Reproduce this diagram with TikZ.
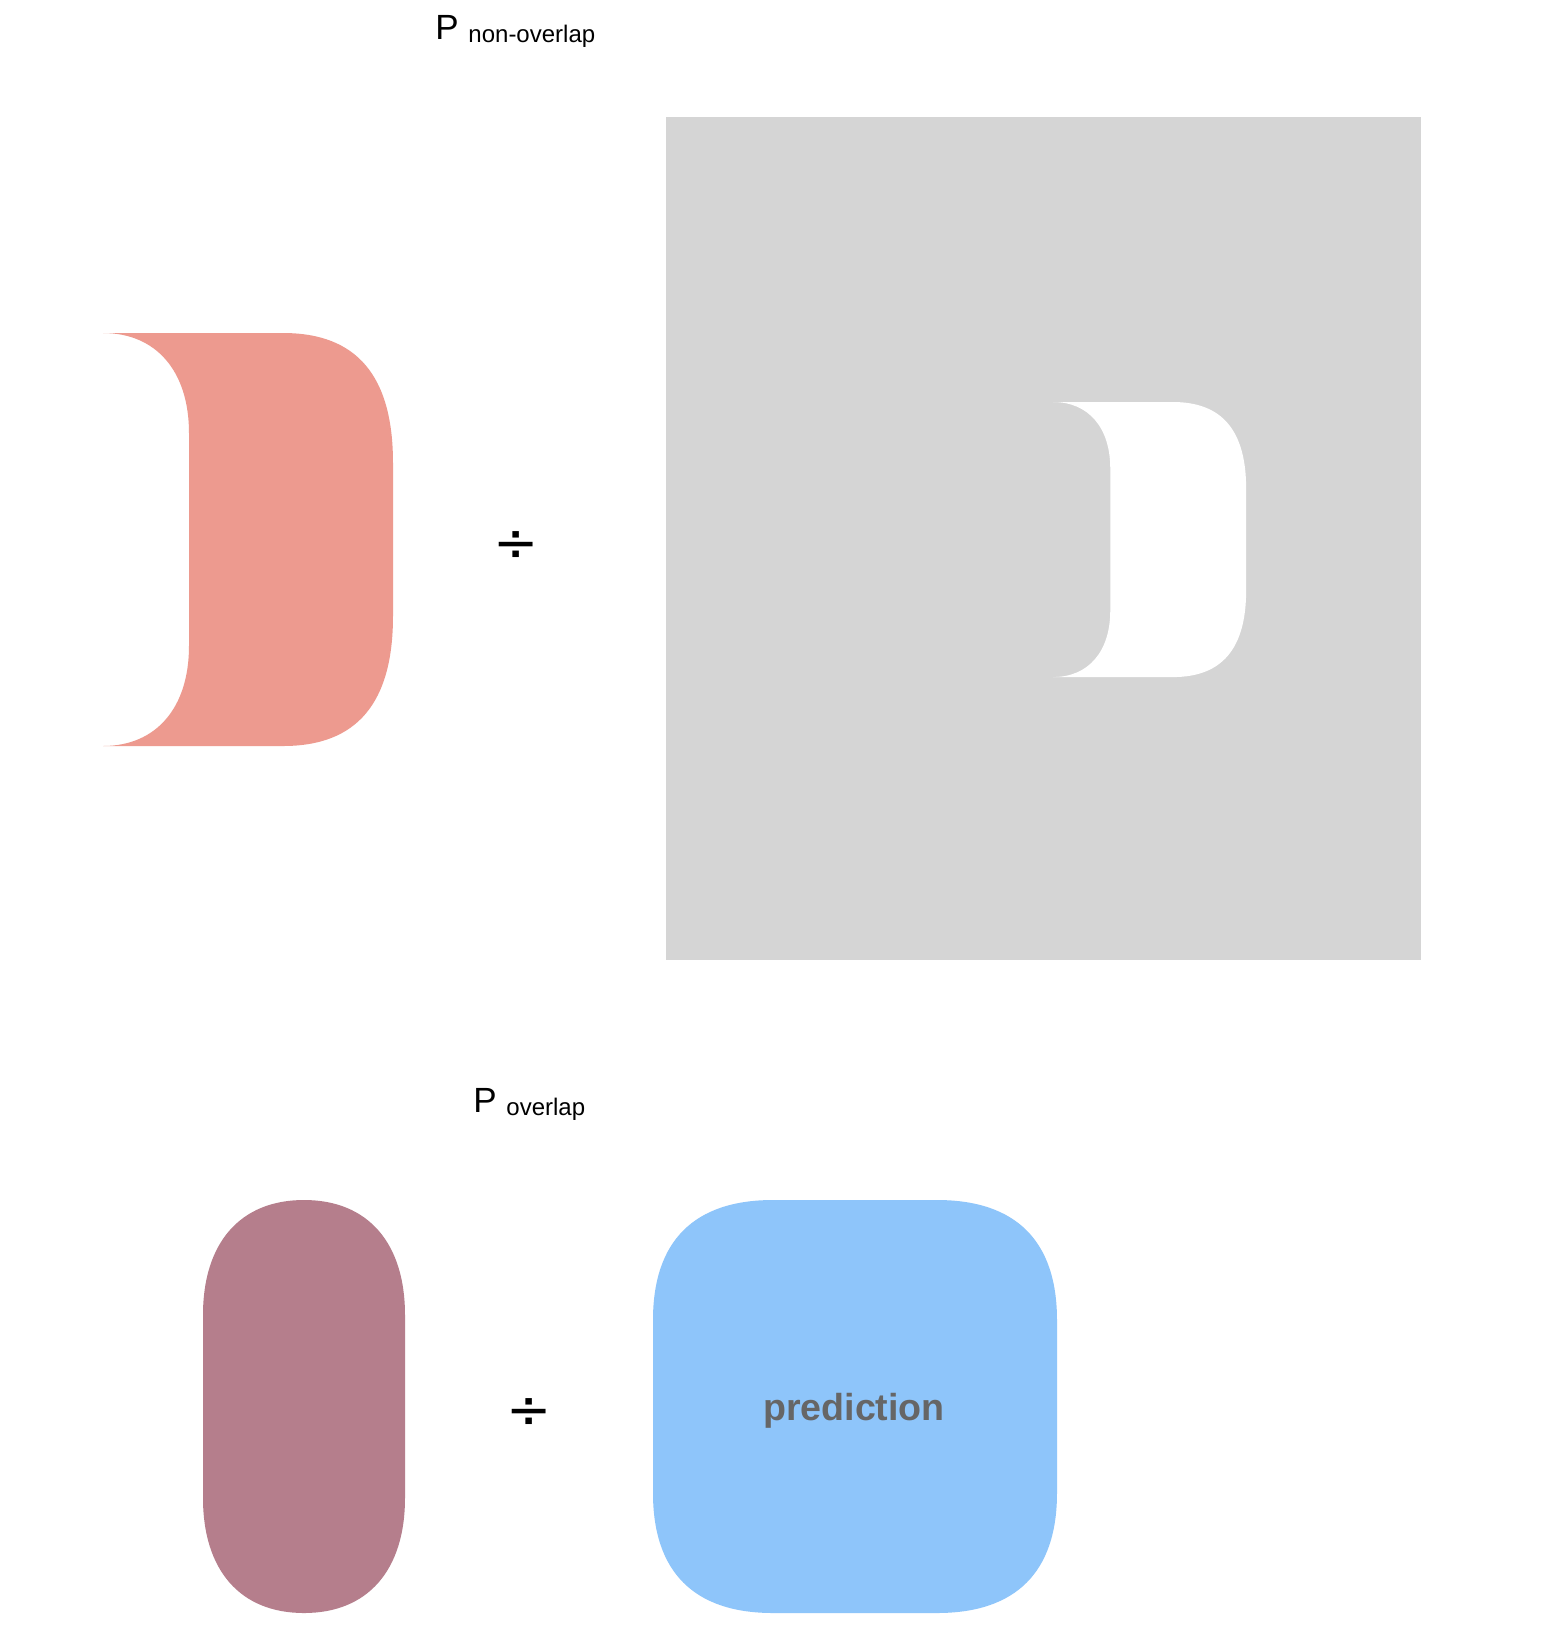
\documentclass[tikz,border=0pt]{standalone}
\usepackage{fontspec}
\setmainfont{Liberation Sans}
\newfontfamily\symfont{DejaVu Sans}
\definecolor{pinkc}{HTML}{ED9A8F}
\definecolor{grayc}{HTML}{D5D5D5}
\definecolor{mauvec}{HTML}{B57E8C}
\definecolor{bluec}{HTML}{8EC5FA}
\definecolor{textg}{HTML}{666666}
\tikzset{
  lbl/.style={inner sep=0pt, anchor=base west, font=\fontsize{17.5}{20}\selectfont},
  divsign/.style={inner sep=0pt, anchor=base, font=\symfont\fontsize{27}{30}\selectfont},
}
\newcommand\dshapepath{(0,0) -- (180,0) .. controls (254,0) and (290,43) .. (290,130) -- (290,283) .. controls (290,370) and (254,413) .. (180,413) -- (0,413) .. controls (53,413) and (86,375) .. (86,313) -- (86,100) .. controls (86,38) and (53,0) .. (0,0) -- cycle}
\begin{document}
\begin{tikzpicture}[x=0.5pt,y=-0.5pt]
\useasboundingbox (0,0) rectangle (1560,1630);
\fill[white] (0,0) rectangle (1560,1630);
% top row
\node[lbl] (pnon) at (435,39) {P \raisebox{-1.7pt}{\fontsize{12}{14}\selectfont non-overlap}};
\begin{scope}[shift={(103,333)}]
  \fill[pinkc] \dshapepath;
\end{scope}
\node[divsign] (div1) at (516,561) {÷};
\fill[grayc] (666,117) rectangle (1421,960);
\begin{scope}[shift={(1053,402)}, scale=0.666]
  \fill[white] \dshapepath;
\end{scope}
% bottom row
\node[lbl] (pov) at (473,1112) {P \raisebox{-1.7pt}{\fontsize{12}{14}\selectfont overlap}};
\fill[mauvec] (304,1200) .. controls (368,1200) and (405,1243) .. (405,1315) -- (405,1498) .. controls (405,1570) and (368,1613) .. (304,1613) .. controls (240,1613) and (203,1570) .. (203,1498) -- (203,1315) .. controls (203,1243) and (240,1200) .. (304,1200) -- cycle;
\node[divsign] (div2) at (529,1428) {÷};
\fill[bluec] (773,1200) -- (937,1200) .. controls (1016,1200) and (1057,1241) .. (1057,1320) -- (1057,1493) .. controls (1057,1572) and (1016,1613) .. (937,1613) -- (773,1613) .. controls (694,1613) and (653,1572) .. (653,1493) -- (653,1320) .. controls (653,1241) and (694,1200) .. (773,1200) -- cycle;
\node[inner sep=0pt, anchor=base, text=textg, font=\fontsize{18.8}{22}\selectfont\bfseries] (pred) at (854,1420) {prediction};
\end{tikzpicture}
\end{document}
